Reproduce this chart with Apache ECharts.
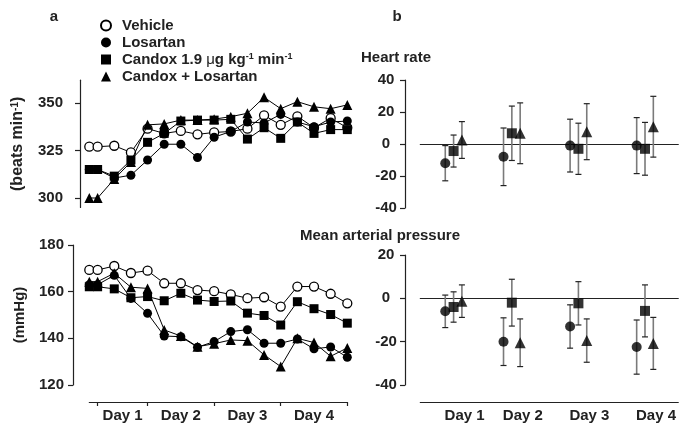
<!DOCTYPE html>
<html>
<head>
<meta charset="utf-8">
<script src="https://cdn.jsdelivr.net/npm/echarts@6/dist/echarts.min.js"></script>
<style>
  html, body { margin: 0; padding: 0; background: #fff; }
  #main { width: 679px; height: 424px; }
</style>
</head>
<body>
<div id="main"></div>
<script>
// sampling points along the 4 days (first one is the pre-treatment baseline)
var timepoints = [-0.5, 0, 1, 2, 3, 4, 5, 6, 7, 8, 9, 10, 11, 12, 13, 14, 15];
var dayBounds = [0, 3, 7, 11, 15];
var dayNames = ['Day 1', 'Day 2', 'Day 3', 'Day 4'];
var names = ['Vehicle', 'Losartan', 'Candox 1.9 \u03bcg kg-1 min-1', 'Candox + Losartan'];

// heart rate (beats/min)
var hrVehicle = [327, 327, 327.5, 324, 336.5, 334, 335.3, 333.5, 334.5, 335, 336.5, 343.5, 338.5, 343, 337, 342, 337];
var hrLosartan = [315, 315, 310.5, 312, 320, 328.3, 328.3, 321.3, 332, 335, 340, 339.5, 344, 340, 337.5, 340, 340.5];
var hrCandox = [315, 315, 311.5, 320, 329.3, 334, 340.5, 341, 341, 341.4, 331, 337, 331.4, 340, 334, 336, 336];
var hrCandoxLos = [300, 300, 310, 319, 338.5, 339, 341, 341, 341.5, 342.8, 344.6, 353, 347, 350.7, 348, 347, 349];

// mean arterial pressure (mmHg)
var mapVehicle = [169.3, 169.3, 171, 168, 169, 163.6, 163.6, 160.7, 160.2, 158.8, 157.2, 157.6, 153.6, 162.2, 162.2, 159.1, 155];
var mapLosartan = [163, 163, 167, 157.1, 150.7, 141, 140.7, 136.2, 138.6, 142.9, 143.7, 137.9, 137.9, 139.7, 135.5, 136.3, 131.9];
var mapCandox = [162.1, 162.1, 161.2, 157.4, 157.9, 156.1, 159.3, 156.4, 155.8, 156, 150.8, 149.8, 145.7, 155.7, 152.7, 150.2, 146.5];
var mapCandoxLos = [164.3, 164.3, 167.9, 161.9, 161.4, 143.6, 141, 136.4, 137.7, 139.3, 139, 132.9, 127.9, 140, 138.2, 132.3, 135.9];

// panel b: change from vehicle per day, mean and error
var dhrLosartan = [-12, -8, -1, -1];
var dhrLosartanErr = [11, 18, 16.5, 17.5];
var dhrCandox = [-4.4, 6.7, -3, -3];
var dhrCandoxErr = [10, 17, 16, 16.5];
var dhrCandoxLos = [2.5, 6.7, 7.7, 10.8];
var dhrCandoxLosErr = [11.5, 19, 17.5, 19];

var dmapLosartan = [-6, -20, -13, -22.5];
var dmapLosartanErr = [7.5, 11, 10, 12.5];
var dmapCandox = [-4, -2, -2.3, -5.8];
var dmapCandoxErr = [7, 10.8, 10, 12];
var dmapCandoxLos = [-1.3, -20.5, -19.5, -20.8];
var dmapCandoxLosErr = [7.5, 11, 10, 12];

var FONT = 'Liberation Sans, Arial, Helvetica, sans-serif';
var dayCenters = dayNames.map(function (d, i) { return (dayBounds[i] + dayBounds[i + 1]) / 2; });

var styles = [
  { symbol: 'circle', symbolSize: 9, itemStyle: { color: '#fff', borderColor: '#000', borderWidth: 1.3 } },
  { symbol: 'circle', symbolSize: 9, itemStyle: { color: '#000', borderColor: '#000', borderWidth: 0 } },
  { symbol: 'rect', symbolSize: 9, itemStyle: { color: '#000', borderColor: '#000', borderWidth: 0 } },
  { symbol: 'triangle', symbolSize: 10, itemStyle: { color: '#000', borderColor: '#000', borderWidth: 0 } }
];

function pairs(xs, ys) {
  return ys.map(function (v, i) { return [xs[i], v]; });
}

function lineSeries(k, values, axis) {
  return {
    name: names[k], type: 'line', xAxisIndex: axis, yAxisIndex: axis,
    data: pairs(timepoints, values),
    symbol: styles[k].symbol, symbolSize: styles[k].symbolSize,
    itemStyle: styles[k].itemStyle,
    lineStyle: { color: '#000', width: 1 },
    z: 3 + k
  };
}

function errorSeries(means, errs, shift, axis) {
  return {
    type: 'custom', xAxisIndex: axis, yAxisIndex: axis, z: 2,
    encode: { x: 0, y: [1, 2] },
    data: means.map(function (m, i) { return [dayCenters[i] + shift, m - errs[i], m + errs[i]]; }),
    renderItem: function (params, api) {
      var x = api.value(0);
      var lo = api.coord([x, api.value(1)]);
      var hi = api.coord([x, api.value(2)]);
      var w = 3;
      return {
        type: 'group',
        children: [
          { type: 'line', shape: { x1: lo[0], y1: lo[1], x2: hi[0], y2: hi[1] }, style: { stroke: '#7a7a7a', lineWidth: 1.6 } },
          { type: 'line', shape: { x1: hi[0] - w, y1: hi[1], x2: hi[0] + w, y2: hi[1] }, style: { stroke: '#222', lineWidth: 1.2 } },
          { type: 'line', shape: { x1: lo[0] - w, y1: lo[1], x2: lo[0] + w, y2: lo[1] }, style: { stroke: '#222', lineWidth: 1.2 } }
        ]
      };
    }
  };
}

function meanSeries(k, means, shift, axis) {
  return {
    name: names[k], type: 'scatter', xAxisIndex: axis, yAxisIndex: axis, z: 5,
    data: means.map(function (m, i) { return [dayCenters[i] + shift, m]; }),
    symbol: styles[k].symbol, symbolSize: styles[k].symbolSize + 1,
    itemStyle: styles[k].itemStyle
  };
}

var tickLabel = { fontFamily: FONT, fontSize: 15, fontWeight: 'bold', color: '#222' };
var axisLine = { show: true, onZero: false, lineStyle: { color: '#222', width: 1.2 } };

function yAxis(grid, min, max, offset, extra) {
  var a = {
    type: 'value', gridIndex: grid, min: min, max: max, offset: offset,
    axisLine: axisLine,
    axisTick: { show: true, length: 5, lineStyle: { color: '#222', width: 1.2 } },
    axisLabel: Object.assign({ margin: 9 }, tickLabel),
    splitLine: { show: false }
  };
  return Object.assign(a, extra || {});
}

var chart = echarts.init(document.getElementById('main'));

var option = {
  backgroundColor: '#fff',
  animation: false,
  textStyle: { fontFamily: FONT },
  graphic: [
    { type: 'text', x: 54, y: 17, style: { text: 'a', font: 'bold 15px ' + FONT, fill: '#222', align: 'center', verticalAlign: 'middle' } },
    { type: 'text', x: 397, y: 17, style: { text: 'b', font: 'bold 15px ' + FONT, fill: '#222', align: 'center', verticalAlign: 'middle' } },
    { type: 'text', x: 396, y: 58, style: { text: 'Heart rate', font: 'bold 15px ' + FONT, fill: '#222', align: 'center', verticalAlign: 'middle' } },
    { type: 'text', x: 380, y: 236, style: { text: 'Mean arterial pressure', font: 'bold 15px ' + FONT, fill: '#222', align: 'center', verticalAlign: 'middle' } }
  ],
  legend: {
    orient: 'vertical', left: 100, top: 18, padding: 0,
    itemWidth: 10, itemHeight: 10, itemGap: 2,
    data: [
      { name: names[0], icon: 'circle' },
      { name: names[1], icon: 'circle' },
      { name: names[2], icon: 'rect' },
      { name: names[3], icon: 'triangle' }
    ],
    formatter: function (name) {
      if (name === names[2]) return 'Candox 1.9 {mu|\u03bc}g kg{sup|-1} min{sup|-1}';
      return name;
    },
    textStyle: {
      fontFamily: FONT, fontSize: 15, fontWeight: 'bold', color: '#222', padding: [0, 0, 0, 6],
      rich: {
        sup: { fontFamily: FONT, fontSize: 9, fontWeight: 'bold', verticalAlign: 'top', color: '#222' },
        mu: { fontFamily: FONT, fontSize: 15, fontWeight: 'normal', color: '#222' }
      }
    }
  },
  grid: [
    { left: 89.3, width: 258, top: 80.2, height: 127.3 },
    { left: 89.3, width: 258, top: 245, height: 140 },
    { left: 420.3, width: 258, top: 80, height: 128 },
    { left: 420.3, width: 258, top: 255, height: 130 }
  ],
  xAxis: [
    { type: 'value', gridIndex: 0, min: -0.5, max: 15, show: false },
    {
      type: 'value', gridIndex: 1, min: -0.5, max: 15, offset: 17,
      axisLine: axisLine,
      axisTick: { show: true, length: 4, customValues: dayBounds, lineStyle: { color: '#222', width: 1.2 } },
      axisLabel: Object.assign({
        margin: 6, customValues: dayCenters,
        formatter: function (v) { return dayNames[dayCenters.indexOf(v)]; }
      }, tickLabel),
      splitLine: { show: false }
    },
    {
      type: 'value', gridIndex: 2, min: -0.5, max: 15,
      axisLine: { show: true, onZero: true, lineStyle: { color: '#222', width: 1.2 } },
      axisTick: { show: false }, axisLabel: { show: false }, splitLine: { show: false }
    },
    {
      type: 'value', gridIndex: 3, min: -0.5, max: 15, offset: 17,
      axisLine: axisLine,
      axisTick: { show: false },
      axisLabel: Object.assign({
        margin: 6, customValues: dayCenters, padding: [0, 0, 0, 22],
        formatter: function (v) { return dayNames[dayCenters.indexOf(v)]; }
      }, tickLabel),
      splitLine: { show: false }
    },
    {
      type: 'value', gridIndex: 3, min: -0.5, max: 15,
      axisLine: { show: true, onZero: true, lineStyle: { color: '#222', width: 1.2 } },
      axisTick: { show: false }, axisLabel: { show: false }, splitLine: { show: false }
    }
  ],
  yAxis: [
    yAxis(0, 295, 362, 9.3, {
      axisTick: { show: true, length: 5, customValues: [300, 325, 350], lineStyle: { color: '#222', width: 1.2 } },
      axisLabel: Object.assign({ margin: 17, customValues: [300, 325, 350] }, tickLabel),
      name: '(beats min{sup|-1})', nameLocation: 'middle', nameGap: 54,
      nameTextStyle: {
        fontFamily: FONT, fontSize: 16, fontWeight: 'bold', color: '#222',
        rich: { sup: { fontFamily: FONT, fontSize: 10, fontWeight: 'bold', verticalAlign: 'top', color: '#222' } }
      }
    }),
    yAxis(1, 120, 180, 16.3, {
      interval: 20,
      name: '(mmHg)', nameLocation: 'middle', nameGap: 46,
      nameTextStyle: { fontFamily: FONT, fontSize: 15, fontWeight: 'bold', color: '#222' }
    }),
    yAxis(2, -40, 40, 15.3, { interval: 20, axisLabel: Object.assign({ margin: 19, align: 'center' }, tickLabel) }),
    yAxis(3, -40, 20, 15.3, { interval: 20, axisLabel: Object.assign({ margin: 19, align: 'center' }, tickLabel) })
  ],
  series: [
    lineSeries(0, hrVehicle, 0),
    lineSeries(1, hrLosartan, 0),
    lineSeries(2, hrCandox, 0),
    lineSeries(3, hrCandoxLos, 0),
    lineSeries(0, mapVehicle, 1),
    lineSeries(1, mapLosartan, 1),
    lineSeries(2, mapCandox, 1),
    lineSeries(3, mapCandoxLos, 1),
    errorSeries(dhrLosartan, dhrLosartanErr, -0.5, 2),
    errorSeries(dhrCandox, dhrCandoxErr, 0, 2),
    errorSeries(dhrCandoxLos, dhrCandoxLosErr, 0.5, 2),
    meanSeries(1, dhrLosartan, -0.5, 2),
    meanSeries(2, dhrCandox, 0, 2),
    meanSeries(3, dhrCandoxLos, 0.5, 2),
    errorSeries(dmapLosartan, dmapLosartanErr, -0.5, 3),
    errorSeries(dmapCandox, dmapCandoxErr, 0, 3),
    errorSeries(dmapCandoxLos, dmapCandoxLosErr, 0.5, 3),
    meanSeries(1, dmapLosartan, -0.5, 3),
    meanSeries(2, dmapCandox, 0, 3),
    meanSeries(3, dmapCandoxLos, 0.5, 3)
  ]
};

chart.setOption(option);
</script>
</body>
</html>
